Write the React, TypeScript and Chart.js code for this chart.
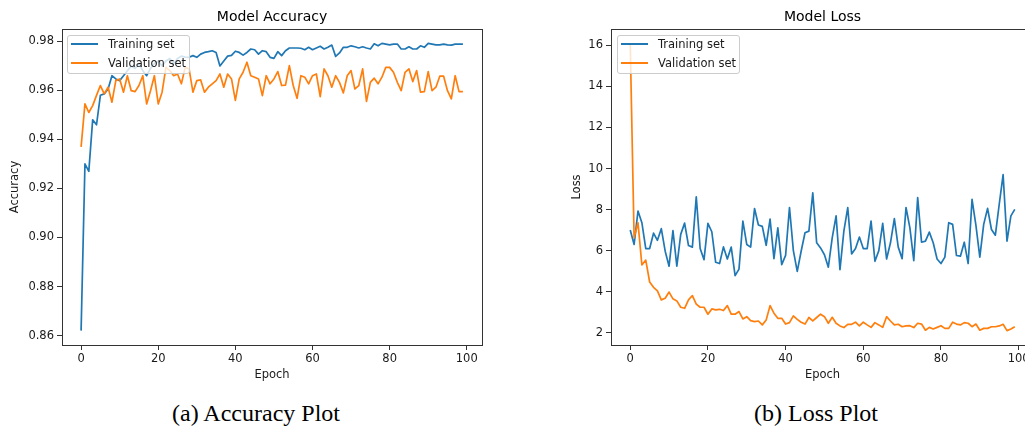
import React, { useEffect, useRef } from "react";
import { Chart, registerables } from "chart.js";

Chart.register(...registerables);

// ---------- data ----------
const epochs = Array.from({ length: 100 }, (_, i) => i);

const trainAcc = [
  0.862, 0.930, 0.927, 0.948, 0.946, 0.958, 0.9586, 0.9606, 0.966, 0.9647,
  0.964, 0.966, 0.968, 0.970, 0.969, 0.971, 0.968, 0.966, 0.969, 0.971,
  0.972, 0.970, 0.972, 0.973, 0.971, 0.973, 0.974, 0.9736, 0.9735, 0.9742,
  0.9735, 0.9748, 0.9755, 0.9758, 0.9762, 0.9755, 0.970, 0.972, 0.974, 0.9743,
  0.976, 0.9755, 0.9744, 0.9755, 0.9769, 0.9766, 0.9748, 0.9762, 0.9758, 0.9735,
  0.9731, 0.9758, 0.9742, 0.9762, 0.9773, 0.9773, 0.9773, 0.9772, 0.9766, 0.9776,
  0.9766, 0.9773, 0.978, 0.9769, 0.9776, 0.9785, 0.9739, 0.9753, 0.9776, 0.9776,
  0.9782, 0.9778, 0.9773, 0.9778, 0.9773, 0.9769, 0.979, 0.9782, 0.9792, 0.9789,
  0.9786, 0.9789, 0.9789, 0.9769, 0.9769, 0.9778, 0.9769, 0.9769, 0.9782, 0.9776,
  0.9792, 0.9789, 0.9786, 0.9786, 0.9789, 0.9786, 0.9785, 0.9789, 0.9789, 0.9789,
];

const valAcc = [
  0.937, 0.9545, 0.951, 0.9538, 0.958, 0.962, 0.9586, 0.9613, 0.9552, 0.964,
  0.9647, 0.9593, 0.966, 0.9599, 0.9595, 0.962, 0.966, 0.9545, 0.9599, 0.966,
  0.9545, 0.9593, 0.9694, 0.9681, 0.966, 0.9667, 0.9627, 0.9694, 0.9688, 0.9593,
  0.964, 0.9643, 0.9593, 0.9613, 0.9627, 0.964, 0.9667, 0.9613, 0.9667, 0.9647,
  0.9559, 0.9647, 0.9674, 0.9715, 0.966, 0.9654, 0.9647, 0.9579, 0.966, 0.9627,
  0.9647, 0.9677, 0.962, 0.9622, 0.9701, 0.962, 0.9568, 0.966, 0.9654, 0.9627,
  0.966, 0.9667, 0.9575, 0.9688, 0.966, 0.9613, 0.966, 0.9633, 0.959, 0.966,
  0.9681, 0.9606, 0.962, 0.9688, 0.9555, 0.9633, 0.965, 0.9627, 0.9654, 0.9694,
  0.9694, 0.9674, 0.9633, 0.9599, 0.9674, 0.9688, 0.9636, 0.9681, 0.9593, 0.9595,
  0.9677, 0.9599, 0.9613, 0.9658, 0.9658, 0.9599, 0.9566, 0.966, 0.9595, 0.9595,
];

const trainLoss = [
  7.0, 6.3, 7.93, 7.36, 6.1, 6.1, 6.85, 6.5, 7.07, 5.97,
  5.24, 6.98, 5.24, 6.79, 7.34, 6.25, 6.17, 8.62, 6.1, 5.56,
  7.33, 6.92, 5.43, 5.37, 6.18, 5.59, 6.17, 4.78, 5.1, 7.44,
  6.3, 6.17, 8.05, 7.25, 7.18, 6.26, 7.54, 5.61, 7.11, 5.32,
  5.77, 8.1, 6.0, 4.99, 5.97, 6.87, 6.95, 8.81, 6.38, 6.13,
  5.8, 5.19, 6.62, 7.69, 5.07, 6.95, 8.1, 5.84, 6.1, 6.66,
  6.1, 6.1, 7.44, 5.48, 6.0, 7.33, 5.59, 6.38, 7.56, 6.17,
  5.61, 8.1, 7.11, 5.51, 8.58, 6.41, 6.46, 6.9, 6.38, 5.59,
  5.37, 5.68, 7.36, 7.28, 5.76, 5.73, 6.41, 5.37, 8.5, 7.23,
  5.68, 7.28, 8.06, 7.03, 6.75, 8.26, 9.7, 6.46, 7.69, 8.01,
];

const valLoss = [
  16.1, 6.62, 7.36, 5.3, 5.54, 4.47, 4.21, 4.04, 3.6, 3.68,
  3.98, 3.65, 3.55, 3.24, 3.19, 3.6, 3.81, 3.39, 3.24, 3.24,
  2.9, 3.16, 3.11, 3.14, 3.08, 3.32, 2.9, 2.9, 3.03, 2.67,
  2.78, 2.59, 2.54, 2.57, 2.38, 2.62, 3.32, 2.95, 2.7, 2.7,
  2.42, 2.49, 2.82, 2.65, 2.51, 2.42, 2.74, 2.57, 2.74, 2.9,
  2.78, 2.46, 2.75, 2.46, 2.33, 2.25, 2.41, 2.41, 2.51, 2.33,
  2.51, 2.38, 2.26, 2.49, 2.38, 2.26, 2.78, 2.57, 2.38, 2.41,
  2.29, 2.33, 2.34, 2.25, 2.46, 2.42, 2.12, 2.26, 2.18, 2.26,
  2.34, 2.21, 2.21, 2.51, 2.42, 2.38, 2.49, 2.46, 2.29, 2.42,
  2.12, 2.21, 2.21, 2.29, 2.29, 2.33, 2.41, 2.1, 2.18, 2.29,
];

const seriesNames = ["Training set", "Validation set"];
const chartTitles = ["Model Accuracy", "Model Loss"];
const yLabels = ["Accuracy", "Loss"];
const xLabel = "Epoch";
const captions = ["(a) Accuracy Plot", "(b) Loss Plot"];

// ---------- styles ----------
const BLUE = "#1f77b4";
const ORANGE = "#ff7f0e";
const FONT = "'DejaVu Sans', sans-serif";
const TXT = "#1a1a1a";
const AX = "#333333";

function paddedRange(arrs: number[][]) {
  let lo = Infinity;
  let hi = -Infinity;
  arrs.forEach((a) => a.forEach((v) => { if (v < lo) lo = v; if (v > hi) hi = v; }));
  const m = (hi - lo) * 0.05;
  return [lo - m, hi + m];
}

const framePlugin = {
  id: "frame",
  afterDraw(chart: any) {
    const { ctx, chartArea: a } = chart;
    ctx.save();
    ctx.strokeStyle = AX;
    ctx.lineWidth = 1;
    ctx.strokeRect(
      Math.round(a.left) + 0.5,
      Math.round(a.top) + 0.5,
      Math.round(a.right - a.left),
      Math.round(a.bottom - a.top)
    );
    ctx.restore();
  },
};

function buildConfig(
  train: number[],
  val: number[],
  yLabel: string,
  yStep: number,
  fmt: (v: number) => string,
  padLeft: number,
  padRight: number,
  yWidth: number,
  xHeight: number
): any {
  const [yMin, yMax] = paddedRange([train, val]);
  const [xMin, xMax] = paddedRange([epochs]);
  const font = { family: FONT, size: 11.5 };
  const toPts = (arr: number[]) => epochs.map((e, i) => ({ x: e, y: arr[i] }));
  return {
    type: "line",
    data: {
      datasets: [
        { label: seriesNames[0], data: toPts(train), borderColor: BLUE, backgroundColor: BLUE, order: 2 },
        { label: seriesNames[1], data: toPts(val), borderColor: ORANGE, backgroundColor: ORANGE, order: 1 },
      ],
    },
    options: {
      animation: false,
      responsive: false,
      events: [],
      layout: { padding: { left: padLeft, right: padRight, top: 29, bottom: 0 } },
      elements: {
        line: { borderWidth: 1.7, tension: 0, borderCapStyle: "butt", borderJoinStyle: "round" },
        point: { radius: 0, hoverRadius: 0 },
      },
      plugins: { legend: { display: false }, tooltip: { enabled: false }, title: { display: false } },
      scales: {
        x: {
          type: "linear",
          min: xMin,
          max: xMax,
          afterFit: (s: any) => { s.height = xHeight; },
          ticks: { stepSize: 20, includeBounds: false, font, color: TXT, padding: 2, maxRotation: 0, callback: (v: any) => String(v) },
          grid: { display: true, drawOnChartArea: false, drawTicks: true, tickLength: 5, color: AX, lineWidth: 1 },
          border: { display: false },
          title: { display: true, text: xLabel, font, color: TXT, padding: 0 },
        },
        y: {
          type: "linear",
          min: yMin,
          max: yMax,
          afterFit: (s: any) => { s.width = yWidth; },
          ticks: { stepSize: yStep, includeBounds: false, font, color: TXT, padding: 3, callback: (v: any) => fmt(Number(v)) },
          grid: { display: true, drawOnChartArea: false, drawTicks: true, tickLength: 5, color: AX, lineWidth: 1 },
          border: { display: false },
          title: { display: true, text: yLabel, font, color: TXT, padding: 0 },
        },
      },
    },
    plugins: [framePlugin],
  };
}

function Legend({ left, top }: { left: number; top: number }) {
  const rows = [
    { name: seriesNames[0], color: BLUE, y: 8.4 },
    { name: seriesNames[1], color: ORANGE, y: 26.7 },
  ];
  return (
    <div
      style={{
        position: "absolute",
        left,
        top,
        width: 123,
        height: 39,
        boxSizing: "border-box",
        border: "1px solid #cccccc",
        borderRadius: 3,
        background: "rgba(255,255,255,0.8)",
        fontFamily: FONT,
        fontSize: 11.5,
        color: TXT,
        zIndex: 2,
      }}
    >
      {rows.map((r) => (
        <React.Fragment key={r.name}>
          <div style={{ position: "absolute", left: 3, top: r.y - 1, width: 27, height: 2, background: r.color }} />
          <div style={{ position: "absolute", left: 40, top: r.y - 7, lineHeight: "14px", whiteSpace: "nowrap" }}>{r.name}</div>
        </React.Fragment>
      ))}
    </div>
  );
}

export default function App() {
  const accRef = useRef<HTMLCanvasElement | null>(null);
  const lossRef = useRef<HTMLCanvasElement | null>(null);

  useEffect(() => {
    const c1 = new Chart(
      accRef.current as HTMLCanvasElement,
      buildConfig(trainAcc, valAcc, yLabels[0], 0.02, (v) => v.toFixed(2), 8, 18, 54, 37)
    );
    const c2 = new Chart(
      lossRef.current as HTMLCanvasElement,
      buildConfig(trainLoss, valLoss, yLabels[1], 2, (v) => String(Math.round(v)), 50, 16, 41, 37)
    );
    return () => {
      c1.destroy();
      c2.destroy();
    };
  }, []);

  const titleStyle: React.CSSProperties = {
    position: "absolute",
    top: 8,
    textAlign: "center",
    fontFamily: FONT,
    fontSize: 14,
    lineHeight: "16px",
    color: "#000",
  };
  const capStyle: React.CSSProperties = {
    position: "absolute",
    top: 398,
    width: 300,
    textAlign: "center",
    fontFamily: "'Liberation Serif', 'DejaVu Serif', serif",
    fontSize: 24,
    lineHeight: "30px",
    color: "#000",
  };

  return (
    <div style={{ position: "absolute", left: 0, top: 0, width: 1025, height: 430, overflow: "hidden", background: "#fff" }}>
      <canvas ref={accRef} width={500} height={382} style={{ position: "absolute", left: 0, top: 0, width: 500, height: 382 }} />
      <canvas ref={lossRef} width={530} height={382} style={{ position: "absolute", left: 520, top: 0, width: 530, height: 382 }} />
      <div style={{ ...titleStyle, left: 62, width: 420 }}>{chartTitles[0]}</div>
      <div style={{ ...titleStyle, left: 611, width: 423 }}>{chartTitles[1]}</div>
      <Legend left={67} top={35} />
      <Legend left={617} top={35} />
      <div style={{ ...capStyle, left: 256 - 150 }}>{captions[0]}</div>
      <div style={{ ...capStyle, left: 816 - 150 }}>{captions[1]}</div>
    </div>
  );
}
